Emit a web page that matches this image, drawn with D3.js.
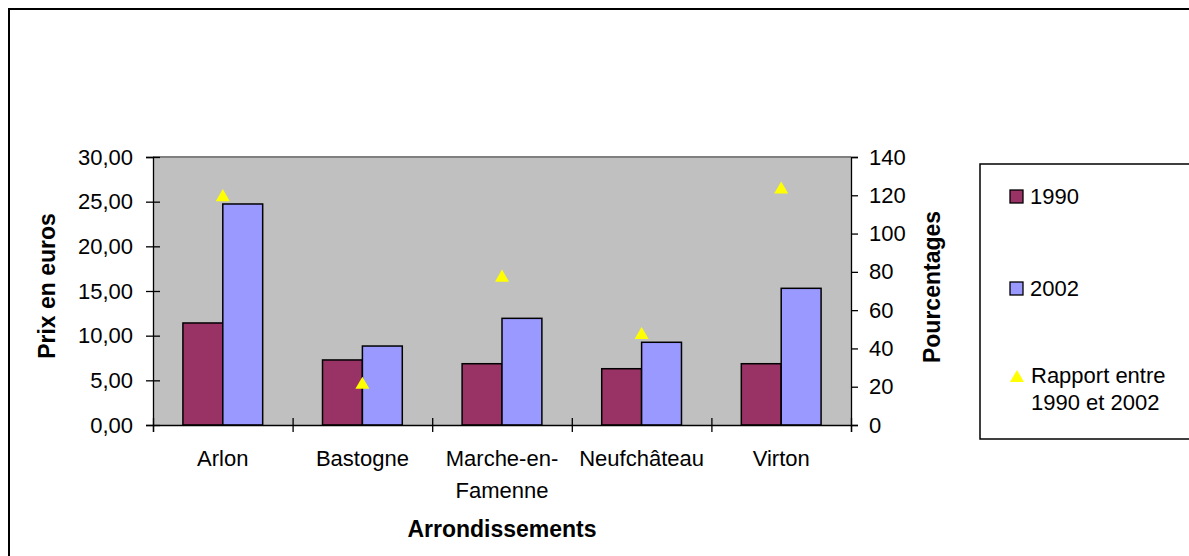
<!DOCTYPE html>
<html>
<head>
<meta charset="utf-8">
<script src="https://cdn.jsdelivr.net/npm/d3@7"></script>
<style>
  body { margin: 0; background: #fff; }
  text { font-family: "Liberation Sans", Arial, sans-serif; fill: #000; }
</style>
</head>
<body>
<div id="chart-area"></div>
<script>
const categories = ["Arlon", "Bastogne", "Marche-en-Famenne", "Neufchâteau", "Virton"];
const categoryLabels = [["Arlon"], ["Bastogne"], ["Marche-en-", "Famenne"], ["Neufchâteau"], ["Virton"]];
const prix1990 = [11.42, 7.28, 6.86, 6.30, 6.86];
const prix2002 = [24.74, 8.84, 11.94, 9.26, 15.30];
const rapport = [119, 21, 77, 47, 123];
const leftTicks = [0, 5, 10, 15, 20, 25, 30];
const rightTicks = [0, 20, 40, 60, 80, 100, 120, 140];
const seriesNames = ["1990", "2002"];
const lineName = ["Rapport entre", "1990 et 2002"];

const svgWidth = 1189;
const svgHeight = 556;
const plot = { left: 153, right: 851, top: 157, bottom: 425 };
const fontSize = 22;
const titleSize = 23;

const svg = d3.select("#chart-area")
              .append("svg")
              .attr("width", svgWidth)
              .attr("height", svgHeight);

// outer chart frame
svg.append("rect")
   .attr("x", 9).attr("y", 9)
   .attr("width", 1200).attr("height", 600)
   .attr("fill", "#fff")
   .attr("stroke", "#000")
   .attr("stroke-width", 2);

// plot area
svg.append("rect")
   .attr("x", plot.left).attr("y", plot.top)
   .attr("width", plot.right - plot.left)
   .attr("height", plot.bottom - plot.top)
   .attr("fill", "#c0c0c0");
svg.append("line")
   .attr("x1", plot.left).attr("x2", plot.right)
   .attr("y1", plot.top).attr("y2", plot.top)
   .attr("stroke", "#808080").attr("stroke-width", 2);

const x = d3.scaleBand()
            .domain(categories)
            .range([plot.left, plot.right]);

// Excel gap width 150% -> two bars in 3.5 units
const barW = x.bandwidth() / 3.5;
const xs = d3.scaleBand()
             .domain(seriesNames)
             .range([x.bandwidth() / 2 - barW, x.bandwidth() / 2 + barW]);

const y = d3.scaleLinear().domain([0, 30]).range([plot.bottom, plot.top]);
const y2 = d3.scaleLinear().domain([0, 140]).range([plot.bottom, plot.top]);

const colors = { "1990": "#993366", "2002": "#9999ff" };
const series = [
  { name: "1990", values: prix1990 },
  { name: "2002", values: prix2002 }
];

series.forEach(s => {
  svg.append("g").selectAll("rect")
     .data(s.values)
     .enter()
     .append("rect")
       .attr("x", (d, i) => x(categories[i]) + xs(s.name))
       .attr("y", d => y(d))
       .attr("width", xs.bandwidth())
       .attr("height", d => y(0) - y(d))
       .attr("fill", colors[s.name])
       .attr("stroke", "#000")
       .attr("stroke-width", 1.5);
});

// triangles on secondary axis
const tri = d3.symbol().type(d3.symbolTriangle).size(85);
svg.append("g").selectAll("path")
   .data(rapport)
   .enter()
   .append("path")
     .attr("d", tri)
     .attr("transform", (d, i) => `translate(${x(categories[i]) + x.bandwidth() / 2}, ${y2(d)})`)
     .attr("fill", "#ffff00");

// left axis (cross ticks)
const yAxis = svg.append("g")
   .attr("transform", `translate(${plot.left}, 0)`)
   .call(d3.axisLeft(y)
           .tickValues(leftTicks)
           .tickSize(7)
           .tickPadding(13)
           .tickFormat(d => d.toFixed(2).replace(".", ",")));
yAxis.selectAll(".tick line").attr("x1", 7);

// right axis
svg.append("g")
   .attr("transform", `translate(${plot.right}, 0)`)
   .call(d3.axisRight(y2)
           .tickValues(rightTicks)
           .tickSize(7)
           .tickPadding(11));

// bottom axis, ticks at category boundaries
const xb = d3.scaleLinear().domain([0, categories.length]).range([plot.left, plot.right]);
const xAxis = svg.append("g")
   .attr("transform", `translate(0, ${plot.bottom})`)
   .call(d3.axisBottom(xb)
           .tickValues(d3.range(categories.length + 1))
           .tickSize(7)
           .tickFormat(""));
xAxis.selectAll(".tick line").attr("y1", -7);

svg.selectAll(".domain, .tick line")
   .attr("stroke", "#000")
   .attr("stroke-width", 1.3);
svg.selectAll(".tick text")
   .style("font-size", fontSize + "px")
   .style("font-family", "'Liberation Sans', Arial, sans-serif")
   .attr("fill", "#000");

// category labels
const catG = svg.append("g");
categoryLabels.forEach((lines, i) => {
  const t = catG.append("text")
     .attr("x", x(categories[i]) + x.bandwidth() / 2)
     .attr("y", 466)
     .attr("text-anchor", "middle")
     .style("font-size", fontSize + "px");
  lines.forEach((l, j) => {
    t.append("tspan")
     .attr("x", x(categories[i]) + x.bandwidth() / 2)
     .attr("dy", j === 0 ? 0 : 32)
     .text(l);
  });
});

// axis titles
svg.append("text")
   .attr("x", (plot.left + plot.right) / 2)
   .attr("y", 537)
   .attr("text-anchor", "middle")
   .style("font-size", titleSize + "px")
   .style("font-weight", "bold")
   .text("Arrondissements");

svg.append("text")
   .attr("transform", "rotate(-90)")
   .attr("x", -286)
   .attr("y", 55)
   .attr("text-anchor", "middle")
   .style("font-size", titleSize + "px")
   .style("font-weight", "bold")
   .text("Prix en euros");

svg.append("text")
   .attr("transform", "rotate(-90)")
   .attr("x", -287)
   .attr("y", 940)
   .attr("text-anchor", "middle")
   .style("font-size", titleSize + "px")
   .style("font-weight", "bold")
   .text("Pourcentages");

// legend
const legend = svg.append("g");
legend.append("rect")
   .attr("x", 980).attr("y", 164)
   .attr("width", 230).attr("height", 275)
   .attr("fill", "#fff")
   .attr("stroke", "#000")
   .attr("stroke-width", 1.5);

const legendY = [196, 288];
seriesNames.forEach((n, i) => {
  legend.append("rect")
     .attr("x", 1010).attr("y", legendY[i] - 6)
     .attr("width", 13).attr("height", 13)
     .attr("fill", colors[n])
     .attr("stroke", "#000")
     .attr("stroke-width", 1.3);
  legend.append("text")
     .attr("x", 1030).attr("y", legendY[i] + 8)
     .style("font-size", fontSize + "px")
     .text(n);
});

legend.append("path")
   .attr("d", tri)
   .attr("transform", "translate(1017, 378)")
   .attr("fill", "#ffff00");
const lt = legend.append("text")
   .style("font-size", fontSize + "px");
lineName.forEach((l, j) => {
  lt.append("tspan")
    .attr("x", 1031)
    .attr("y", 383 + j * 27)
    .text(l);
});
</script>
</body>
</html>
